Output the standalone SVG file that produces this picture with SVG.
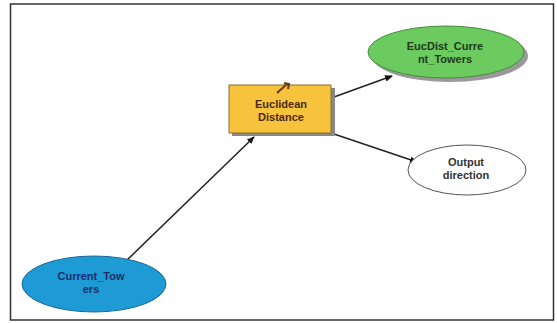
<svg xmlns="http://www.w3.org/2000/svg" width="557" height="323" viewBox="0 0 557 323">
<style>
.lbl{font-family:"Liberation Sans",Arial,sans-serif;font-size:11px;font-weight:bold;text-anchor:middle}
.edge{stroke:#222;stroke-width:1.5;fill:none}
</style>
<defs>
<marker id="ah" markerWidth="8" markerHeight="8" refX="7" refY="4" orient="auto" markerUnits="userSpaceOnUse">
<path d="M0,0.8 L8,4 L0,7.2 Z" fill="#111"/>
</marker>
</defs>
<rect x="0" y="0" width="557" height="323" fill="#fff"/>
<rect x="10.5" y="4" width="543" height="316" fill="none" stroke="#333" stroke-width="1.5"/>
<g id="connectors">
<line class="edge" x1="125" y1="262" x2="254" y2="137" marker-end="url(#ah)"/>
<line class="edge" x1="334" y1="97" x2="392" y2="76" marker-end="url(#ah)"/>
<line class="edge" x1="334" y1="134" x2="417" y2="162" marker-end="url(#ah)"/>
</g>
<g id="euclidean">
<rect x="232" y="88" width="103" height="48" fill="#888"/>
<rect x="229" y="85" width="102" height="48" fill="#F7C23C" stroke="#8a7030" stroke-width="1"/>
<path d="M277,93 L287,84 M284,83 L289,84 L288,89" stroke="#6b3a10" stroke-width="2" fill="none"/>
<text class="lbl" x="281" y="108" fill="#4a2a10">Euclidean</text>
<text class="lbl" x="281" y="121" fill="#4a2a10">Distance</text>
</g>
<g id="eucdist">
<ellipse cx="450" cy="56" rx="78" ry="26" fill="#999"/>
<ellipse cx="446" cy="52" rx="78" ry="26" fill="#6CCB5F" stroke="#4a8a40" stroke-width="1"/>
<text class="lbl" x="445" y="50" fill="#1f3a18">EucDist_Curre</text>
<text class="lbl" x="445" y="63" fill="#1f3a18">nt_Towers</text>
</g>
<g id="output">
<ellipse cx="467" cy="170" rx="59" ry="25" fill="#fff" stroke="#555" stroke-width="1"/>
<text class="lbl" x="466" y="166" fill="#333">Output</text>
<text class="lbl" x="466" y="179" fill="#333">direction</text>
</g>
<g id="current">
<ellipse cx="94" cy="284" rx="72" ry="28" fill="#1E9AD4" stroke="#1a6a9a" stroke-width="1"/>
<text class="lbl" x="91" y="280" fill="#1a2f6a">Current_Tow</text>
<text class="lbl" x="91" y="293" fill="#1a2f6a">ers</text>
</g>
</svg>
